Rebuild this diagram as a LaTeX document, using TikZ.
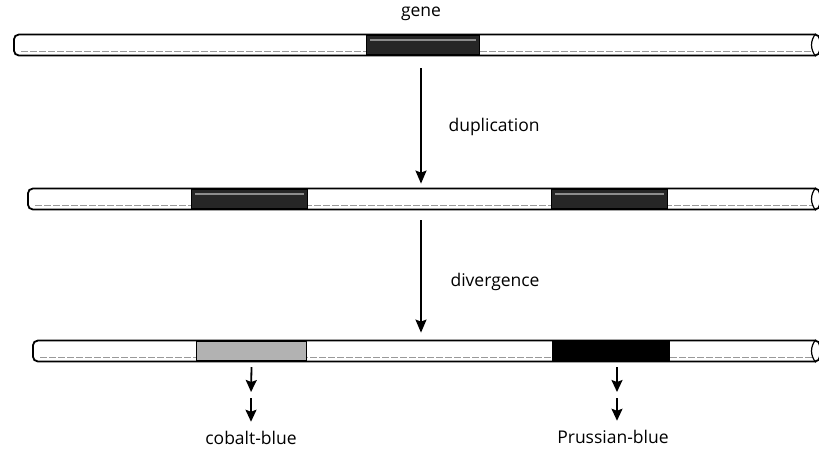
\documentclass[tikz,border=0pt]{standalone}
\usepackage{fontspec}
\setmainfont{Open Sans}
\usetikzlibrary{arrows.meta}

\begin{document}
\begin{tikzpicture}[x=1pt,y=-1pt, rod/.style={draw, line width=1.8pt, fill=white, rounded corners=5pt, minimum height=21pt, inner sep=0pt, anchor=west}, seg/.style={draw, line width=1.2pt, minimum height=19pt, inner sep=0pt, anchor=west}, sheen/.style={black!40, line width=0.8pt, dash pattern=on 7pt off 2pt}, arrow/.style={-{Stealth[length=13pt,width=11pt,inset=2pt]}, line width=1.7pt}, tick/.style={-{Stealth[length=12pt,width=11pt,inset=2pt]}, line width=1.8pt}, txt/.style={font=\fontsize{17.5}{20}\selectfont}]
\useasboundingbox (0,0) rectangle (819,453);
% rods
\node[rod, minimum width=806pt] (r1) at (13,45) {};
\node[rod, minimum width=792pt] (r2) at (27,199) {};
\node[rod, minimum width=787pt] (r3) at (32,351) {};
\foreach \r in {r1,r2,r3}{
  \draw[sheen] ([xshift=8pt,yshift=5pt]\r.south west) -- ([xshift=-8pt,yshift=5pt]\r.south east);
  \draw[line width=1.2pt] ([xshift=-5pt]\r.north east) to[bend right=40] ([xshift=-5pt]\r.south east);
}
% genes
\node[seg, fill=black!85, minimum width=113pt] (g1) at (366,45) {};
\node[seg, fill=black!85, minimum width=116pt] (g2a) at (191,199) {};
\node[seg, fill=black!85, minimum width=116pt] (g2b) at (551,199) {};
\node[seg, fill=black!30, minimum width=110pt] (g3a) at (196,351) {};
\node[seg, fill=black, minimum width=117pt] (g3b) at (552,351) {};
\foreach \g in {g1,g2a,g2b}{
  \draw[black!45, line width=2pt] ([xshift=4pt,yshift=-5pt]\g.north west) -- ([xshift=-4pt,yshift=-5pt]\g.north east);
}
% labels
\node[txt] (gene) at (421,14) {gene};
\node[txt, anchor=west] (dup) at (445,127) {duplication};
\node[txt, anchor=west] (div) at (447,282) {divergence};
\node[txt] (cb) at (251,438) {cobalt-blue};
\node[txt] (pb) at (613,437) {Prussian-blue};
\coordinate (c1) at (251,395);
\coordinate (p1) at (617,395);
% arrows
\draw[arrow, shorten <=12pt, shorten >=4pt] (r1.south -| gene) -- (r2.north -| gene);
\draw[arrow, shorten <=10pt, shorten >=7pt] (r2.south -| gene) -- (r3.north -| gene);
\draw[tick, shorten <=6pt, shorten >=3pt] (g3a.south) -- (c1);
\draw[tick, shorten <=3pt, shorten >=6pt] (c1) -- (cb.north -| c1);
\draw[tick, shorten <=6pt, shorten >=3pt] (g3b.south -| p1) -- (p1);
\draw[tick, shorten <=3pt, shorten >=6pt] (p1) -- (pb.north -| p1);
\end{tikzpicture}
\end{document}
